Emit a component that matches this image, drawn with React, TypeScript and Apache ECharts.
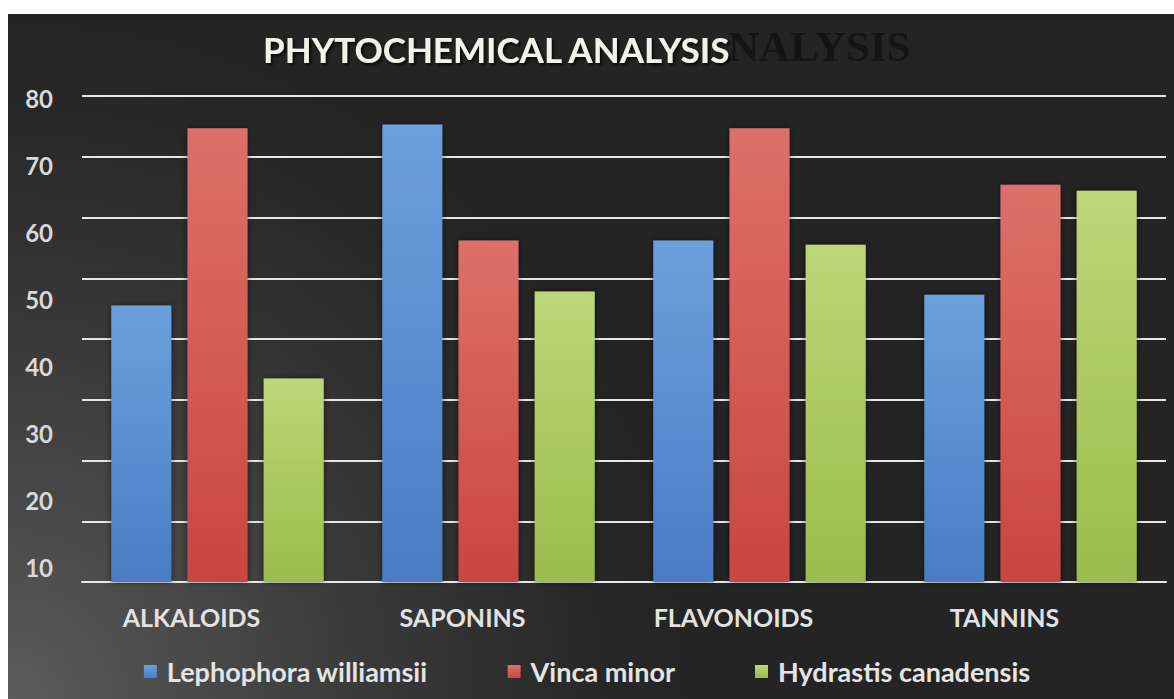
import React, { useEffect, useRef } from "react";
import * as echarts from "echarts";

const categories = ["ALKALOIDS", "SAPONINS", "FLAVONOIDS", "TANNINS"];
const seriesNames = ["Lephophora williamsii", "Vinca minor", "Hydrastis canadensis"];
const lephophora = [45.5, 75.3, 56.2, 47.3];
const vinca = [74.7, 56.2, 74.7, 65.4];
const hydrastis = [33.5, 47.8, 55.5, 64.4];
const yTickLabels = ["10", "20", "30", "40", "50", "60", "70", "80"];
const titleText = "PHYTOCHEMICAL ANALYSIS";
const ghostText = "NALYSIS";

const FONT = "Lato, 'Open Sans', sans-serif";

function grad(top: string, mid: string, bottom: string) {
  return {
    type: "linear",
    x: 0,
    y: 0,
    x2: 0,
    y2: 1,
    colorStops: [
      { offset: 0, color: top },
      { offset: 0.5, color: mid },
      { offset: 1, color: bottom },
    ],
  };
}

const palettes = [
  grad("#6c9fdc", "#5a8fd2", "#4a7cc3"),
  grad("#dc706a", "#d55b55", "#c84641"),
  grad("#bdd77b", "#abc95f", "#9cbc4f"),
];

export default function App() {
  const ref = useRef<HTMLDivElement>(null);

  useEffect(() => {
    if (!ref.current) return;
    const chart = echarts.init(ref.current, null, { renderer: "svg" });
    const dataSets = [lephophora, vinca, hydrastis];
    chart.setOption({
      animation: false,
      backgroundColor: "transparent",
      title: {
        text: titleText,
        left: 258,
        top: 26,
        textStyle: {
          fontFamily: FONT,
          fontWeight: "bold",
          fontSize: 35,
          color: "#f2f2ea",
          textShadowColor: "rgba(0,0,0,0.8)",
          textShadowBlur: 3,
          textShadowOffsetX: 2,
          textShadowOffsetY: 2,
        },
      },
      graphic: [
        {
          type: "text",
          left: 728,
          top: 25,
          z: -1,
          silent: true,
          style: {
            text: ghostText,
            fill: "#141414",
            font: "bold 43px 'Liberation Serif', 'DejaVu Serif', serif",
          },
        },
      ],
      legend: {
        bottom: 9,
        left: "center",
        itemWidth: 13,
        itemHeight: 13,
        itemGap: 80,
        icon: "rect",
        data: seriesNames,
        textStyle: {
          fontFamily: FONT,
          fontWeight: "bold",
          fontSize: 27,
          color: "#e4e4e4",
          padding: [0, 0, 0, 5],
        },
      },
      grid: [
        { left: 82, right: 8, top: 96, bottom: 117 },
        { left: 82, right: 8, top: 98, bottom: 132 },
      ],
      xAxis: [
        {
          type: "category",
          gridIndex: 0,
          data: categories,
          axisLine: { show: true, lineStyle: { color: "#e8e8e8", width: 2 } },
          axisTick: { show: false },
          axisLabel: {
            margin: 22,
            fontFamily: FONT,
            fontWeight: "bold",
            fontSize: 25,
            color: "#e2e2e2",
            padding: [0, 52, 0, 0],
          },
        },
        {
          type: "category",
          gridIndex: 1,
          data: categories,
          show: false,
        },
      ],
      yAxis: [
        {
          type: "value",
          gridIndex: 0,
          min: 0,
          max: 80,
          interval: 10,
          axisLine: { show: false },
          axisTick: { show: false },
          axisLabel: { show: false },
          splitLine: { show: true, lineStyle: { color: "#e6e6e6", width: 2 } },
        },
        {
          type: "category",
          gridIndex: 1,
          data: yTickLabels,
          boundaryGap: false,
          axisLine: { show: false },
          axisTick: { show: false },
          splitLine: { show: false },
          axisLabel: {
            margin: 29,
            fontFamily: FONT,
            fontWeight: "bold",
            fontSize: 24,
            color: "#d9d9d9",
          },
        },
      ],
      series: seriesNames.map((name, i) => ({
        name,
        type: "bar",
        xAxisIndex: 0,
        yAxisIndex: 0,
        data: dataSets[i],
        barWidth: 60,
        barGap: "27%",
        itemStyle: {
          color: palettes[i],
          shadowColor: "rgba(0,0,0,0.55)",
          shadowBlur: 6,
        },
      })),
    });
    return () => chart.dispose();
  }, []);

  return (
    <div
      style={{
        position: "fixed",
        left: 0,
        top: 0,
        width: 1174,
        height: 699,
        background: "#ffffff",
        overflow: "hidden",
      }}
    >
      <div
        style={{
          position: "absolute",
          left: 8,
          top: 14,
          right: 0,
          bottom: 0,
          background:
            "radial-gradient(circle 680px at 0% 100%, #5c5c5c 0%, #4d4d4d 22%, #3a3a3a 52%, #282828 85%, #242424 100%)",
        }}
      />
      <div
        ref={ref}
        style={{ position: "absolute", left: 0, top: 0, width: 1174, height: 699 }}
      />
    </div>
  );
}
